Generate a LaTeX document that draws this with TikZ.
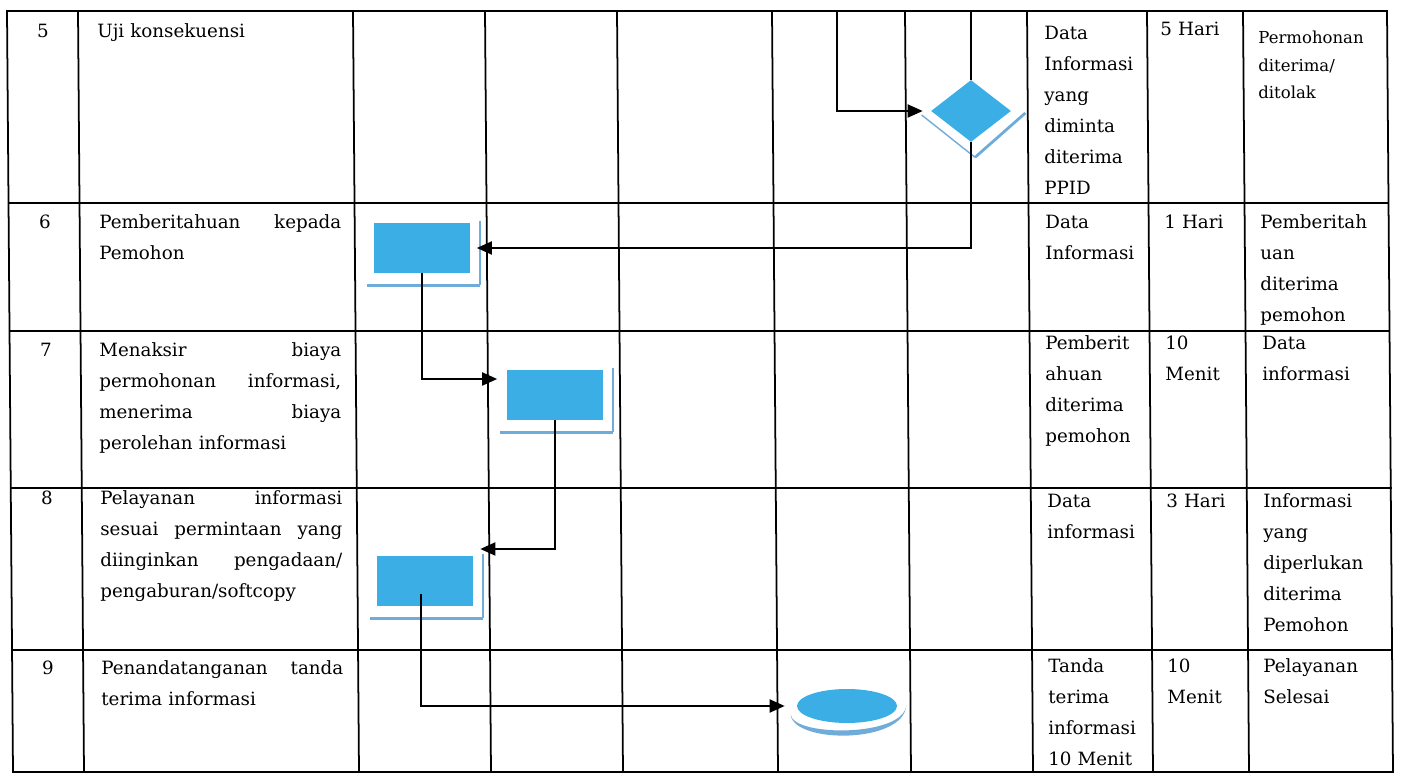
\documentclass[tikz,border=0pt]{standalone}
\usepackage{fontspec}
\setmainfont{DejaVu Serif}
\usetikzlibrary{shapes.geometric,arrows.meta,positioning}

\definecolor{procblue}{RGB}{58,174,229}
\definecolor{shadeblue}{RGB}{112,172,218}

\begin{document}
\begin{tikzpicture}[
			x = 0.02cm,
			y = -0.02cm,
			tableline/.style = {line width=1pt, line cap=rect},
			txt/.style = {anchor=base west, inner sep=0pt, align=left, text width=2.2cm,
				font=\fontsize{10.4}{17.6}\selectfont},
			smalltxt/.style = {txt, text width=2.5cm, font=\fontsize{9.4}{15.4}\selectfont},
			desc/.style = {txt, text width=4.84cm},
			numtext/.style = {anchor=base, inner sep=0pt, font=\fontsize{10.4}{17.6}\selectfont},
			proc/.style = {fill=procblue, minimum width=1.94cm, minimum height=1cm, inner sep=0pt},
			dec/.style = {diamond, fill=procblue, minimum width=1.6cm, minimum height=1.24cm, inner sep=0pt},
			endoval/.style = {ellipse, fill=procblue, minimum width=2cm, minimum height=0.68cm, inner sep=0pt},
			shadeline/.style = {draw=shadeblue, line width=1.1pt},
			flow/.style = {-{Triangle[length=0.3cm,width=0.26cm]}, line width=1.1pt},
			link/.style = {line width=1.1pt}
			]

			\useasboundingbox (0,0) rectangle (1404,776);

			% table
			\foreach \x in {7,78,353,485,617,772,905,1027,1147,1243,1387}
				\draw[tableline] (\x,11) -- (\x+6,772);
			\foreach \y in {11,203,331,488,650,772}
				\draw[tableline] ({7+0.0079*(\y-11)},\y) -- ({1387+0.0079*(\y-11)},\y);

			% row 5
			\node[numtext] (n5) at (43,38) {5};
			\node[desc] (d5) at (97,38) {Uji konsekuensi};
			\node[txt] (data5) at (1044,40) {Data\\Informasi\\yang\\diminta\\diterima\\PPID};
			\node[txt] (time5) at (1160,36) {5 Hari};
			\node[smalltxt] (out5) at (1258,44) {Permohonan\\diterima/\\ditolak};

			% row 6
			\node[numtext] (n6) at (45,229) {6};
			\node[desc] (d6) at (99,229) {Pemberitahuan\hfill kepada\\Pemohon};
			\node[txt] (data6) at (1045,229) {Data\\Informasi};
			\node[txt] (time6) at (1164,229) {1 Hari};
			\node[txt] (out6) at (1260,229) {Pemberitah\\uan\\diterima\\pemohon};

			% row 7
			\node[numtext] (n7) at (46,357) {7};
			\node[desc] (d7) at (99,357) {Menaksir\hfill biaya\\permohonan\hfill informasi,\\menerima\hfill biaya\\perolehan informasi};
			\node[txt] (data7) at (1045,350) {Pemberit\\ahuan\\diterima\\pemohon};
			\node[txt] (time7) at (1165,350) {10\\Menit};
			\node[txt] (out7) at (1262,350) {Data\\informasi};

			% row 8
			\node[numtext] (n8) at (47,505) {8};
			\node[desc] (d8) at (100,505) {Pelayanan\hfill informasi\\sesuai\hfill permintaan\hfill yang\\diinginkan\hfill pengadaan/\\pengaburan/softcopy};
			\node[txt] (data8) at (1047,508) {Data\\informasi};
			\node[txt] (time8) at (1166,508) {3 Hari};
			\node[txt] (out8) at (1263,508) {Informasi\\yang\\diperlukan\\diterima\\Pemohon};

			% row 9
			\node[numtext] (n9) at (48,675) {9};
			\node[desc] (d9) at (101,675) {Penandatanganan\hfill tanda\\terima informasi};
			\node[txt] (data9) at (1048,673) {Tanda\\terima\\informasi\\10 Menit};
			\node[txt] (time9) at (1167,673) {10\\Menit};
			\node[txt] (out9) at (1263,673) {Pelayanan\\Selesai};

			% shapes
			\node[dec] (dia) at (971,111) {};
			\node[proc] (box6) at (422,248) {};
			\node[proc] (box7) at (555,395) {};
			\node[proc] (box8) at (425,581) {};
			\node[endoval] (fin) at (847,706) {};

			\foreach \b in {box6,box7,box8}{
				\draw[shadeline] ([shift={(9,-2)}]\b.north east) -- ([shift={(9,12)}]\b.south east);
				\draw[shadeline, line width=1.7pt] ([shift={(9,12)}]\b.south east) -- ([shift={(-6,12)}]\b.south west);
			}
			\draw[shadeline, line width=0.8pt] ([shift={(-9,4)}]dia.west) -- ([shift={(4,15)}]dia.south);
			\draw[shadeline, line width=1.6pt] ([shift={(4,15)}]dia.south) -- ([shift={(14,2)}]dia.east);
			\fill[shadeblue] ([shift={(-6,9)}]fin.west) .. controls ([shift={(-2,38)}]fin.west) and ([shift={(7,38)}]fin.east) .. ([shift={(9,-1)}]fin.east)
				.. controls ([shift={(7,31)}]fin.east) and ([shift={(-2,31)}]fin.west) .. cycle;

			% connectors
			\coordinate (top5a) at (837,11);
			\coordinate (top5b) at (971,11);
			\draw[flow, shorten >=0.16cm] (top5a) |- (dia.west);
			\draw[link] (top5b) -- (dia.north);
			\draw[flow, shorten >=0.12cm] (dia.south) |- (box6.east);
			\draw[flow, shorten >=0.18cm] (box6.south) |- ([shift={(0,-16)}]box7.west);
			\draw[flow, shorten >=0.13cm] (box7.south) |- ([shift={(0,-32)}]box8.east);
			\draw[flow, shorten >=0.24cm] ([shift={(-4,13)}]box8.center) |- (fin.west);

		\end{tikzpicture}
\end{document}
